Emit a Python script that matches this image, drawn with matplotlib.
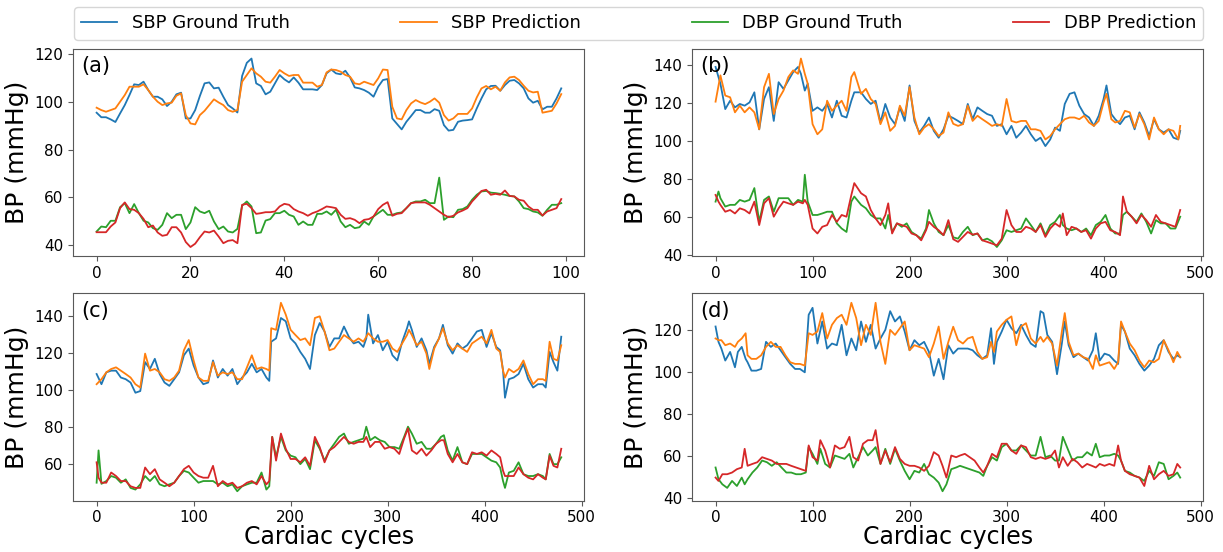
import matplotlib
matplotlib.use('Agg')
import matplotlib.pyplot as plt
import numpy as np

labels = ['SBP Ground Truth', 'SBP Prediction', 'DBP Ground Truth', 'DBP Prediction']
colors = ['#1f77b4', '#ff7f0e', '#2ca02c', '#d62728']

# ---- panel (a): 100 cardiac cycles
a_x = np.arange(100)
a_sbp_gt = [95.5, 93.6, 93.6, 92.7, 91.6, 95.2, 98.7, 102.9, 107.4, 107.1,
            108.5, 105.0, 102.2, 102.2, 101.1, 98.3, 100.1, 103.2, 103.9, 93.1,
            93.1, 96.6, 102.5, 107.8, 108.2, 105.7, 106.0, 102.2, 98.7, 97.3,
            95.6, 110.9, 116.4, 118.2, 107.8, 106.7, 103.2, 104.3, 107.8, 111.3,
            109.5, 108.2, 110.3, 108.1, 105.3, 105.3, 105.3, 105.0, 107.1, 112.0,
            113.6, 112.0, 111.6, 113.1, 110.3, 106.1, 105.7, 105.0, 103.9, 102.2,
            106.4, 109.2, 109.6, 93.1, 90.8, 88.5, 91.7, 94.1, 96.6, 96.6,
            95.5, 95.5, 97.0, 96.3, 90.3, 88.0, 88.3, 91.7, 92.2, 92.4,
            92.7, 97.3, 101.5, 105.3, 106.7, 106.8, 104.7, 107.1, 108.9, 109.2,
            107.8, 105.7, 101.5, 99.7, 100.5, 96.9, 98.0, 98.0, 101.5, 105.7]
a_sbp_pred = [97.6, 96.6, 95.9, 96.6, 97.3, 100.1, 102.9, 106.4, 106.4, 106.4,
              107.4, 105.0, 102.2, 100.1, 98.7, 99.4, 99.7, 102.6, 103.6, 94.5,
              91.0, 90.6, 94.5, 96.3, 98.7, 101.1, 99.8, 98.7, 96.6, 95.9,
              96.6, 108.5, 111.3, 114.1, 112.0, 110.6, 108.5, 108.1, 110.6, 113.4,
              112.0, 110.9, 111.3, 111.3, 108.1, 108.1, 108.1, 106.4, 107.1, 112.4,
              113.6, 113.4, 112.7, 111.3, 110.6, 107.8, 107.4, 108.5, 107.8, 107.1,
              109.9, 113.6, 113.4, 98.0, 93.1, 92.7, 96.6, 99.4, 100.8, 99.8,
              99.1, 100.1, 101.5, 99.7, 94.5, 92.2, 93.1, 95.0, 95.0, 95.0,
              97.3, 101.9, 105.7, 106.7, 105.3, 106.4, 104.7, 108.2, 110.3, 110.6,
              109.2, 106.8, 104.7, 104.0, 104.3, 95.5, 95.9, 96.3, 99.4, 103.3]
a_dbp_gt = [45.7, 47.8, 47.5, 50.2, 50.2, 55.9, 57.6, 53.4, 57.2, 53.4,
            50.2, 49.5, 47.1, 46.4, 48.5, 53.4, 51.3, 52.7, 52.7, 46.7,
            49.5, 55.9, 54.1, 53.4, 54.4, 49.9, 46.7, 47.8, 45.7, 45.3,
            46.8, 56.5, 58.3, 56.2, 45.0, 45.3, 50.3, 50.9, 53.4, 53.4,
            54.4, 52.7, 52.0, 48.5, 49.9, 48.5, 48.5, 53.1, 53.1, 54.1,
            52.7, 54.8, 49.9, 47.5, 48.5, 47.1, 47.5, 49.9, 48.5, 52.0,
            53.4, 54.8, 52.7, 52.7, 53.4, 53.7, 55.5, 57.6, 58.3, 58.3,
            59.0, 57.6, 57.6, 68.3, 50.6, 52.0, 51.7, 54.8, 55.1, 56.2,
            59.0, 61.1, 62.5, 62.7, 62.0, 61.8, 61.5, 61.1, 60.6, 60.4,
            58.3, 55.5, 55.1, 54.1, 53.7, 52.3, 54.8, 56.9, 56.9, 57.6]
a_dbp_pred = [45.4, 45.4, 45.4, 47.8, 49.5, 55.5, 57.9, 55.1, 54.8, 53.4,
              51.0, 47.5, 48.2, 45.3, 43.9, 44.3, 47.5, 47.5, 45.3, 41.3,
              39.2, 40.6, 43.3, 45.7, 45.3, 46.1, 43.6, 40.8, 41.8, 42.1,
              40.8, 56.9, 57.3, 55.5, 53.1, 53.4, 53.8, 53.8, 54.1, 56.2,
              57.3, 56.9, 55.1, 54.1, 53.4, 52.3, 53.4, 54.1, 55.1, 56.2,
              55.9, 55.5, 52.7, 51.0, 51.3, 50.6, 49.2, 50.6, 50.9, 52.0,
              55.1, 56.9, 58.0, 52.3, 53.1, 53.4, 55.5, 57.6, 57.9, 57.9,
              57.9, 56.9, 55.5, 54.1, 52.7, 51.7, 52.3, 53.7, 54.5, 55.5,
              58.3, 60.4, 62.7, 63.2, 61.1, 61.5, 61.1, 62.9, 60.6, 60.4,
              59.0, 58.6, 56.2, 54.8, 54.8, 52.4, 54.1, 54.8, 55.5, 59.3]

# ---- panel (b): 480 cycles, sampled
b_sbp_x = [0, 5, 10, 15, 20, 25, 30, 35, 40, 45, 50, 55, 60, 65, 70, 75, 80, 85,
           88, 92, 95, 100, 105, 110, 115, 120, 125, 130, 135, 140, 143,
           150, 155, 160, 165, 170, 175, 180, 185, 190, 195, 200, 205, 210, 215,
           220, 225, 230, 235, 240, 245, 250, 255, 260, 265, 270, 275, 280, 285,
           290, 295, 300, 305, 310, 315, 320, 325, 330, 335, 340, 345, 350, 355,
           360, 365, 370, 375, 380, 385, 390, 395, 400, 403,
           408, 412, 417, 422, 427, 432, 437, 442, 447, 452, 457, 462, 467, 472, 477, 479]
b_sbp_gt = [138.8, 130.0, 116.7, 121.1, 117.6, 119.4, 118.5, 120.2, 125.5, 106.1, 122.0, 128.2,
            110.5, 130.8, 127.3, 131.7, 136.1, 138.8,
            135.2, 126.4, 130.0, 115.8, 117.6, 115.8, 119.4, 112.3, 121.1, 113.2, 112.3, 121.1, 125.5,
            125.5, 122.0, 119.4, 121.1, 109.7, 119.4, 112.3, 108.8, 117.6, 110.5, 129.1, 110.5, 104.4,
            107.9, 112.3, 105.3, 101.7, 106.1, 113.2, 112.0, 110.5, 108.8, 119.4, 111.4, 117.6, 115.8,
            114.1, 113.2, 107.9, 108.8, 103.5, 107.9, 101.7, 104.4, 107.9, 103.5, 100.0, 101.7, 97.3,
            100.8, 107.0, 105.3,
            119.4, 124.7, 125.5, 118.5, 114.1, 112.3, 107.9, 113.2, 122.0, 129.1,
            114.1, 111.4, 108.8, 112.3, 113.2, 106.1, 115.0, 109.7, 102.6, 111.4, 106.1, 104.4, 106.1,
            101.7, 100.8, 105.3]
b_sbp_pred = [120.6, 134.4, 123.8, 122.9, 115.0, 118.5, 115.0, 117.6, 115.0, 106.1, 128.2, 135.2,
              114.1, 122.0, 126.4, 133.5, 137.0, 135.2,
              143.2, 135.2, 130.0, 108.8, 103.5, 106.1, 121.1, 115.8, 118.5, 121.1, 115.8, 133.5, 136.1,
              124.7, 127.3, 122.0, 119.4, 108.8, 115.0, 105.3, 107.9, 118.5, 113.2, 128.2, 112.3, 103.5,
              107.0, 108.8, 106.1, 102.6, 104.4, 115.0, 109.0, 107.9, 108.8, 118.5, 110.5, 113.2, 111.4,
              109.7, 107.9, 108.8, 107.9, 122.0, 110.5, 109.7, 110.5, 110.5, 106.1, 106.1, 105.3, 100.8,
              102.6, 106.1, 108.8,
              111.4, 112.3, 112.3, 111.4, 113.2, 109.7, 107.9, 110.5, 120.2, 124.7,
              111.4, 109.7, 110.5, 115.8, 115.0, 107.0, 114.1, 108.8, 100.8, 112.3, 106.1, 103.5, 106.1,
              105.3, 100.8, 107.9]
b_dbp_x = [0, 3, 5, 10, 15, 20, 25, 30, 35, 40, 45, 50, 55, 60, 65, 70, 75, 80, 85, 90, 92, 95,
           100, 105, 110, 115, 120, 125, 130, 135, 140, 143, 150, 155, 160, 165, 170, 175, 178,
           182, 187, 192, 197, 202, 207, 212, 217, 220, 225, 230, 235, 240, 245, 250, 255, 260,
           265, 270, 275, 280, 285, 290, 295, 300, 305, 310, 315, 320, 325, 330, 335, 340, 345,
           350, 355, 358, 362, 367, 372, 377, 382, 387, 392, 397, 402, 407, 412, 417, 420, 424,
           429, 434, 439, 444, 449, 454, 459, 464, 469, 474, 479]
b_dbp_gt = [68.2, 73.5, 70.0, 65.6, 66.5, 66.5, 69.1, 68.2, 69.1, 75.3, 57.6, 69.1, 70.9, 62.9,
            70.0, 70.0, 70.0, 66.5, 69.1, 68.2, 82.3, 68.2,
            61.2, 61.2, 62.0, 62.9, 62.9, 56.8, 54.1, 52.3, 68.2, 70.9, 66.5, 64.7, 61.2, 59.4,
            59.4, 54.1, 61.2,
            52.3, 56.8, 55.0, 56.8, 52.3, 50.6, 48.8, 54.1, 63.8, 56.8, 52.3, 50.6, 55.9, 49.5,
            48.8, 52.3, 55.0,
            50.6, 51.5, 47.9, 48.8, 47.4, 44.4, 47.9, 53.2, 52.3, 53.2, 54.1, 59.4, 55.9, 52.3,
            56.8, 50.6, 55.9,
            57.6, 61.2, 55.9, 54.1, 53.2, 54.1, 52.3, 54.1, 50.6, 55.9, 57.6, 61.2, 54.1, 51.5,
            51.5, 61.2, 62.9,
            60.3, 57.6, 62.0, 57.6, 51.5, 58.5, 56.8, 56.8, 54.1, 54.1, 60.3]
b_dbp_pred = [71.7, 68.2, 66.5, 62.9, 63.8, 62.0, 64.7, 63.8, 62.0, 68.2, 55.9, 67.3, 70.0, 60.3,
              64.7, 68.2, 67.3, 66.5, 68.2, 67.3, 69.1, 66.5,
              54.1, 51.5, 55.0, 55.9, 61.2, 57.6, 61.2, 60.3, 71.7, 77.9, 72.6, 70.9, 63.8, 59.4,
              55.9, 61.2, 67.3,
              51.5, 56.8, 55.9, 55.0, 51.5, 50.6, 47.9, 53.2, 57.6, 55.0, 53.2, 50.6, 58.5, 48.5,
              47.1, 49.7, 52.3,
              50.9, 51.5, 47.9, 47.1, 46.2, 45.3, 48.8, 63.8, 55.9, 52.3, 52.3, 55.0, 54.1, 52.3,
              55.9, 49.7, 54.1,
              56.8, 55.0, 62.0, 50.6, 55.0, 54.1, 52.3, 53.2, 48.8, 54.1, 56.8, 57.6, 53.2, 52.3,
              50.6, 70.9, 62.9,
              60.3, 56.8, 61.2, 58.5, 55.0, 61.2, 57.6, 56.8, 55.9, 55.0, 63.8]

# ---- panel (c)
c_sbp_x = [0, 5, 10, 15, 20, 25, 30, 35, 40, 45, 50, 55, 60, 65, 70, 75, 80, 85, 90, 95,
           100, 105, 110, 115, 120, 125, 130, 135, 140, 145, 150, 155, 160, 165, 170, 175, 178,
           180, 185, 190, 195, 200, 205, 210, 215, 220, 225, 230, 235, 240,
           245, 250, 255, 260, 265, 270, 275, 278, 280, 285, 290, 295, 300, 305, 310, 315, 320,
           322, 325, 330, 335, 340, 343, 348, 353, 357, 362, 367, 372, 377, 382, 387, 392, 397,
           402, 407, 412, 416, 419, 421, 425, 430, 435, 440, 445, 450, 455, 460, 463, 467, 471,
           475, 479]
c_sbp_gt = [108.7, 103.2, 109.6, 110.5, 110.5, 106.8, 105.9, 104.1, 98.6, 99.5, 115.1, 111.4,
            116.9, 108.7, 104.1, 102.3, 105.9, 109.6, 118.8, 122.4,
            113.3, 106.8, 103.2, 104.1, 116.0, 106.8, 111.4, 107.8, 111.4, 103.2, 106.8, 109.6,
            114.2, 109.6, 111.4, 106.8, 105.0,
            126.1, 127.9, 138.9, 137.1, 127.9, 125.2, 120.6, 116.9, 111.4, 129.7, 136.2, 131.6, 123.3,
            127.9, 127.9, 134.3, 128.8, 125.2, 126.1, 123.3, 127.9, 140.7, 125.2, 129.7, 121.5,
            126.1, 118.8, 116.0, 126.1, 133.4,
            137.1, 132.5, 123.3, 127.9, 121.5, 114.2, 123.3, 127.9, 135.2, 124.2, 119.7, 125.2,
            122.4, 124.2, 127.9, 131.6, 132.5,
            123.3, 130.7, 123.3, 121.5, 110.5, 95.9, 105.9, 106.8, 108.7, 114.2, 105.9, 101.4,
            103.2, 103.2, 101.4, 120.6, 115.1,
            110.5, 128.8]
c_sbp_pred = [103.2, 105.9, 109.6, 111.4, 112.3, 110.5, 108.7, 106.8, 103.2, 101.4, 119.7, 110.5,
              111.4, 109.6, 105.9, 105.0, 106.8, 110.5, 121.5, 127.0,
              116.0, 106.8, 105.0, 105.0, 115.1, 107.8, 109.6, 108.7, 109.6, 105.9, 105.9, 112.3,
              118.8, 111.4, 112.3, 111.4, 110.5,
              133.4, 132.5, 147.1, 140.7, 132.5, 129.7, 127.0, 127.9, 124.2, 138.9, 139.8, 131.6, 121.5,
              122.4, 126.1, 129.7, 127.9, 126.1, 127.9, 126.1, 128.8, 130.7, 127.9, 126.1, 126.1,
              127.0, 122.4, 120.6, 125.2, 129.7,
              132.5, 129.7, 124.2, 126.1, 119.7, 111.4, 122.4, 127.9, 133.4, 125.2, 121.5, 124.2,
              122.4, 120.6, 125.2, 127.0, 128.8,
              125.2, 132.5, 122.4, 120.6, 110.5, 106.8, 111.4, 109.6, 111.4, 116.0, 108.7, 103.2,
              105.9, 105.9, 105.0, 126.1, 116.9,
              116.0, 124.2]
c_dbp_x = [0, 2, 5, 10, 15, 20, 25, 30, 35, 40, 45, 50, 55, 60, 65, 70, 75, 80, 85, 90, 95,
           100, 105, 110, 115, 120, 125, 130, 135, 140, 145, 150, 155, 160, 165, 170, 175, 178,
           181, 185, 190, 195, 200, 205, 210, 215, 220, 225, 230, 235, 240,
           245, 250, 255, 260, 265, 270, 275, 278, 282, 287, 292, 297, 302, 307, 312, 317, 321,
           325, 330, 335, 340, 345, 350, 355, 358, 362, 367, 372, 377, 382, 387, 392, 397, 402,
           407, 412, 416, 419, 421, 425, 430, 435, 440, 445, 450, 455, 460, 463, 467, 471, 475, 479]
c_dbp_gt = [50.1, 67.5, 49.5, 51.0, 53.7, 52.8, 50.1, 51.9, 47.3, 46.4, 49.2, 53.7, 51.0, 53.7,
            49.2, 48.2, 49.2, 50.1, 53.7, 56.5, 55.6,
            52.8, 50.1, 51.0, 51.0, 51.0, 49.2, 50.1, 48.2, 49.2, 45.5, 48.2, 49.2, 50.1, 50.1,
            55.6, 46.4, 48.2,
            74.8, 63.8, 74.8, 67.5, 64.7, 63.8, 60.1, 62.9, 57.4, 73.0, 68.4, 62.0, 67.5,
            71.1, 74.8, 76.6, 71.1, 72.1, 73.0, 73.9, 80.3, 73.0, 74.8, 73.0, 72.1, 69.3, 69.3,
            68.4, 74.8, 80.3,
            76.6, 71.1, 72.1, 68.4, 68.4, 71.1, 74.8, 75.7, 67.5, 62.0, 69.3, 61.1, 60.1, 65.6,
            65.6, 65.6, 63.8,
            62.0, 61.1, 58.3, 51.0, 47.3, 55.6, 56.5, 61.1, 54.7, 53.7, 53.7, 54.7, 53.7, 51.9,
            65.6, 60.1, 60.1, 63.8]
c_dbp_pred = [61.1, 52.8, 50.1, 50.1, 55.6, 53.7, 51.0, 51.0, 48.2, 47.3, 47.3, 58.3, 54.7, 57.4,
              51.9, 50.1, 48.2, 50.1, 53.7, 57.4, 59.2,
              55.6, 53.7, 52.8, 52.8, 59.2, 48.2, 51.0, 49.2, 50.1, 47.3, 48.2, 50.1, 51.0, 49.2,
              53.7, 49.2, 51.0,
              74.8, 62.0, 76.6, 68.4, 62.9, 62.9, 61.1, 63.8, 59.2, 74.8, 69.3, 61.1, 67.5,
              69.3, 72.1, 74.8, 72.1, 71.1, 72.1, 72.1, 74.8, 69.3, 72.1, 72.1, 68.4, 69.3, 68.4,
              65.6, 73.9, 79.4,
              67.5, 65.6, 68.4, 64.7, 67.5, 71.1, 73.0, 73.0, 65.6, 61.1, 65.6, 61.1, 60.1, 66.5,
              65.6, 66.5, 64.7,
              67.5, 65.6, 63.8, 56.5, 53.7, 53.7, 53.7, 58.3, 54.7, 52.8, 51.9, 54.7, 52.8, 51.9,
              64.7, 59.2, 58.3, 68.4]

# ---- panel (d)
d_sbp_x = [0, 3, 6, 10, 15, 20, 23, 27, 31, 33, 37, 42, 47, 52, 57, 62, 67, 72, 77, 82, 87, 92,
           96, 100, 105, 110, 115, 120, 125, 130, 135, 140, 145, 150, 155, 160, 165, 170, 175,
           180, 185, 190, 195, 200, 205, 210, 215, 220, 225, 230, 235, 240, 245,
           250, 255, 260, 265, 270, 275, 280, 284, 287, 290, 295, 300, 305, 310, 315, 320, 325,
           330, 335, 338, 342, 347, 352, 357, 360, 364, 369, 374, 379, 384, 389, 392, 396, 401,
           406, 411, 415, 418, 422, 427, 432, 437, 442, 447, 452, 457, 462, 467, 472, 476, 479]
d_sbp_gt = [121.6, 114.3, 111.1, 105.4, 109.5, 102.2, 109.5, 111.9, 106.2, 104.6, 100.6, 100.6,
            101.4, 114.3, 111.9, 113.5, 110.3, 107.0, 103.8, 101.4, 101.4, 99.8,
            127.2, 130.5, 113.5, 124.0, 111.1, 113.5, 112.7, 122.4, 107.9, 115.9, 110.3, 124.0,
            114.3, 122.4, 111.1, 115.9, 120.0,
            128.9, 124.0, 126.4, 119.2, 110.3, 115.1, 112.7, 114.3, 109.5, 98.2, 106.2, 96.5,
            112.7, 108.7,
            111.1, 111.1, 111.1, 110.3, 107.9, 106.2, 107.9, 120.8, 103.8, 114.3, 119.2, 124.8,
            120.8, 118.4, 122.4, 117.6, 113.5,
            111.9, 128.9, 128.0, 117.6, 114.3, 98.9, 113.5, 124.0, 112.7, 107.0, 108.7, 107.0,
            105.4, 110.3, 118.4, 105.4, 108.7,
            107.9, 105.4, 103.8, 122.4, 119.2, 111.1, 107.9, 103.8, 100.6, 103.0, 106.2, 112.7,
            115.1, 109.5, 106.2, 107.9, 107.0]
d_sbp_pred = [115.9, 115.1, 115.1, 112.7, 113.5, 111.9, 114.3, 115.9, 118.4, 107.9, 106.2, 106.2,
              107.9, 111.9, 114.3, 111.9, 111.9, 107.9, 104.6, 103.8, 103.8, 103.0,
              118.4, 117.6, 119.2, 128.0, 115.9, 122.4, 125.6, 127.2, 122.4, 132.9, 125.6, 112.7,
              122.4, 117.6, 132.9, 114.3, 103.8,
              120.0, 117.6, 120.8, 124.0, 110.3, 112.7, 111.9, 111.1, 107.0, 113.5, 121.6, 106.2,
              114.3, 121.5,
              115.1, 113.5, 115.9, 116.7, 109.5, 106.2, 107.0, 114.3, 109.5, 119.2, 122.4, 124.8,
              126.4, 112.7, 121.6, 123.2, 115.9,
              113.5, 116.7, 114.3, 116.7, 113.5, 103.0, 119.2, 128.0, 114.3, 107.9, 108.7, 107.0,
              106.2, 101.4, 107.9, 103.0, 103.8,
              104.6, 101.4, 104.6, 124.0, 119.2, 113.5, 110.3, 105.4, 102.2, 105.4, 104.6, 106.2,
              115.1, 110.3, 104.6, 109.5, 107.0]
d_dbp_x = [0, 3, 7, 12, 17, 22, 27, 30, 33, 38, 43, 48, 53, 58, 63, 68, 73, 78, 83, 88, 93,
           96, 100, 105, 108, 113, 118, 123, 128, 133, 138, 142, 147, 152, 157, 162, 165, 170,
           175, 180, 185, 190, 195, 200, 205, 210, 215, 220, 225, 230, 234, 238, 243,
           248, 252, 257, 262, 267, 272, 276, 280, 285, 290, 295, 300, 305, 310, 315, 320, 325,
           330, 335, 340, 345, 350, 354, 358, 363, 368, 373, 378, 383, 388, 392, 396, 401, 406,
           411, 415, 418, 422, 427, 432, 437, 442, 447, 452, 457, 462, 467, 472, 476, 479]
d_dbp_gt = [54.5, 48.9, 46.5, 44.8, 48.1, 45.7, 49.7, 46.5, 48.9, 52.1, 54.5, 57.8, 57.0, 55.3,
            57.0, 54.5, 52.1, 52.1, 51.3, 51.3, 52.1,
            64.2, 61.0, 56.2, 63.4, 56.2, 54.5, 60.2, 59.4, 58.6, 61.0, 54.5, 59.4, 64.2, 60.2,
            62.6, 64.2, 56.2,
            63.4, 56.2, 63.4, 57.8, 52.9, 48.9, 52.9, 52.1, 56.2, 51.3, 49.7, 47.3, 43.2, 46.5, 53.7,
            54.5, 55.3, 54.5, 53.7, 52.9, 52.1, 50.5, 55.3, 59.4, 57.8, 64.2, 65.8, 62.6, 62.6,
            65.0, 62.6, 60.2,
            60.2, 69.1, 59.4, 60.2, 57.8, 57.8, 69.1, 63.4, 57.8, 59.4, 59.4, 61.8, 60.2, 65.8,
            59.4, 60.2, 60.2,
            61.0, 60.2, 57.8, 52.9, 52.1, 50.5, 49.7, 48.1, 52.9, 50.5, 57.0, 56.2, 48.9, 50.5,
            52.1, 49.7]
d_dbp_pred = [49.7, 48.1, 51.3, 51.3, 52.1, 53.7, 54.5, 63.4, 55.3, 56.2, 57.0, 59.4, 58.6, 57.8,
              56.2, 56.2, 56.2, 55.3, 54.5, 53.7, 52.9,
              65.0, 59.4, 57.8, 67.5, 62.6, 54.5, 65.0, 63.4, 64.2, 69.1, 59.4, 57.8, 65.8, 67.5,
              67.5, 72.3, 56.2,
              62.6, 57.0, 64.2, 58.6, 56.2, 55.3, 55.3, 54.5, 52.9, 55.3, 61.8, 60.2, 55.3, 49.7, 60.2,
              59.4, 60.2, 61.0, 59.4, 57.8, 54.5, 52.1, 55.3, 61.0, 59.4, 65.8, 65.8, 62.6, 61.0,
              65.0, 64.2, 59.4,
              58.6, 59.4, 58.6, 59.4, 62.6, 54.5, 59.4, 55.3, 58.6, 57.0, 54.5, 56.2, 55.3, 54.5,
              56.2, 55.3, 56.2,
              55.3, 65.0, 57.8, 52.9, 51.3, 50.5, 49.7, 45.7, 55.3, 48.9, 51.3, 52.9, 50.5, 51.3,
              56.2, 54.5]

panels = [
    ('(a)', a_x, a_sbp_gt, a_sbp_pred, a_x, a_dbp_gt, a_dbp_pred),
    ('(b)', b_sbp_x, b_sbp_gt, b_sbp_pred, b_dbp_x, b_dbp_gt, b_dbp_pred),
    ('(c)', c_sbp_x, c_sbp_gt, c_sbp_pred, c_dbp_x, c_dbp_gt, c_dbp_pred),
    ('(d)', d_sbp_x, d_sbp_gt, d_sbp_pred, d_dbp_x, d_dbp_gt, d_dbp_pred),
]

plt.rcParams['axes.edgecolor'] = '0.35'
plt.rcParams['xtick.color'] = '0.35'
plt.rcParams['ytick.color'] = '0.35'
plt.rcParams['xtick.labelcolor'] = 'black'
plt.rcParams['ytick.labelcolor'] = 'black'

fig, axes = plt.subplots(2, 2, figsize=(12.23, 5.52), dpi=100)
fig.subplots_adjust(left=0.06, right=0.984, top=0.911, bottom=0.093,
                    wspace=0.211, hspace=0.178)

for i, (ax, p) in enumerate(zip(axes.flat, panels)):
    name, sx, sgt, spr, dx, dgt, dpr = p
    ax.plot(sx, sgt, color=colors[0], lw=1.3, label=labels[0])
    ax.plot(sx, spr, color=colors[1], lw=1.3, label=labels[1])
    ax.plot(dx, dgt, color=colors[2], lw=1.3, label=labels[2])
    ax.plot(dx, dpr, color=colors[3], lw=1.3, label=labels[3])
    ax.text(0.015, 0.965, name, transform=ax.transAxes, fontsize=15, va='top')
    ax.tick_params(labelsize=11)
    ax.set_ylabel('BP (mmHg)', fontsize=18)
    if i >= 2:
        ax.set_xlabel('Cardiac cycles', fontsize=17, labelpad=0)

h, l = axes[0, 0].get_legend_handles_labels()
fig.legend(h, l, loc='upper left', bbox_to_anchor=(0.0605, 0.987, 0.9235, 0),
           ncol=4, mode='expand', fontsize=13, borderaxespad=0)

plt.savefig('out.png', dpi=100)
plt.close()
